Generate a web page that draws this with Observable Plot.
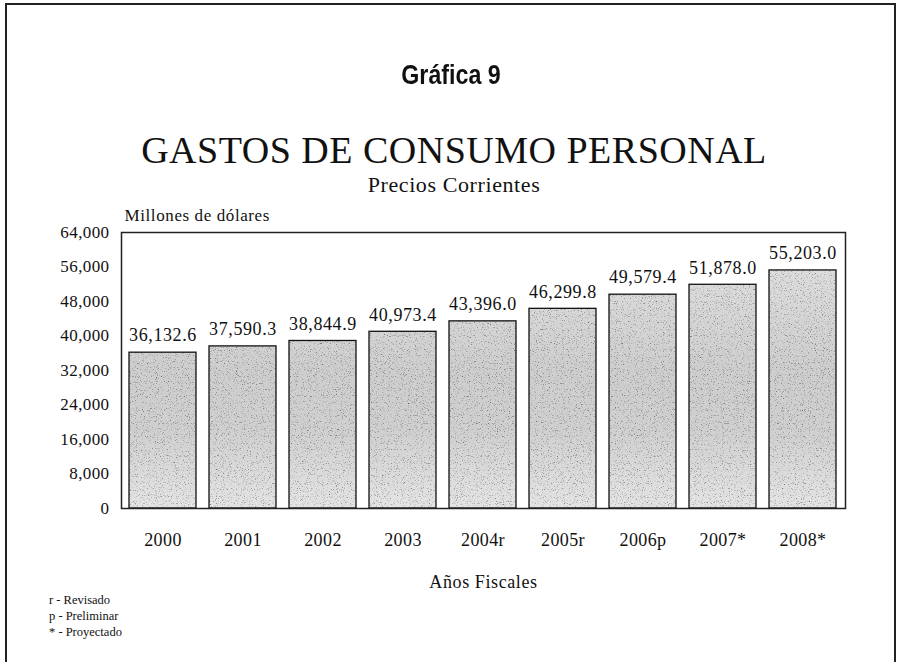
<!DOCTYPE html>
<html>
<head>
<meta charset="utf-8">
<script src="https://cdn.jsdelivr.net/npm/d3@7"></script>
<script src="https://cdn.jsdelivr.net/npm/@observablehq/plot@0.6"></script>
<style>
  html, body { margin: 0; padding: 0; background: #fff; }
  body { width: 898px; height: 662px; position: relative; overflow: hidden; font-family: "Liberation Serif", serif; color: #111; }
  #frame { position: absolute; left: 5px; top: 3px; width: 887px; height: 680px; border: 2px solid #222; border-bottom: none; }
  .t { position: absolute; left: 0; width: 898px; text-align: center; white-space: nowrap; }
  #g9 { top: 60px; font-family: "Liberation Sans", Arial, sans-serif; font-weight: bold; font-size: 27px; left: 2px; transform: scaleX(0.86); }
  #main { top: 128px; font-size: 38px; left: 5px; letter-spacing: 0.5px; }
  #sub { top: 172px; font-size: 22px; left: 5px; letter-spacing: 0.6px; }
  #chart { position: absolute; left: 0; top: 200px; }
  #notes { position: absolute; left: 49px; top: 592px; font-size: 12.5px; line-height: 16px; }
</style>
</head>
<body>
<div id="frame"></div>
<div class="t" id="g9">Gráfica 9</div>
<div class="t" id="main">GASTOS DE CONSUMO PERSONAL</div>
<div class="t" id="sub">Precios Corrientes</div>
<div id="chart"></div>
<div id="notes">r - Revisado<br>p - Preliminar<br>* - Proyectado</div>
<script>
const years = ["2000", "2001", "2002", "2003", "2004r", "2005r", "2006p", "2007*", "2008*"];
const values = [36132.6, 37590.3, 38844.9, 40973.4, 43396.0, 46299.8, 49579.4, 51878.0, 55203.0];
const yTicks = [0, 8000, 16000, 24000, 32000, 40000, 48000, 56000, 64000];

const data = years.map((year, i) => ({year, value: values[i]}));
const fmt = d3.format(",.1f");

const chart = Plot.plot({
  width: 898,
  height: 420,
  marginLeft: 121,
  marginRight: 53,
  marginTop: 32,
  marginBottom: 112,
  style: {fontFamily: "Liberation Serif, serif", fontSize: "17px", color: "#111", background: "transparent", overflow: "visible"},
  x: {domain: years, paddingInner: 0.16, paddingOuter: 0.08, label: null},
  y: {domain: [0, 64000], label: null},
  marks: [
    Plot.barY(data, {x: "year", y: "value", fill: "url(#barfill)"}),
    Plot.barY(data, {x: "year", y: "value", fill: "none", stroke: "#111", strokeWidth: 1.3}),
    Plot.text(data, {x: "year", y: "value", text: d => fmt(d.value), dy: -17, fontSize: 18, fill: "#111"}),
    Plot.frame({stroke: "#222", strokeWidth: 1.5}),
    Plot.axisY({ticks: yTicks, tickFormat: d3.format(","), tickSize: 0, tickPadding: 12, fontSize: 17, label: null}),
    Plot.axisX({tickSize: 0, tickPadding: 25, fontSize: 18, label: null}),
    Plot.text(["Años Fiscales"], {frameAnchor: "bottom", dy: 74, fontSize: 18, lineAnchor: "middle", fill: "#111"}),
    Plot.text(["Millones de dólares"], {frameAnchor: "top-left", dx: 3, dy: -17, fontSize: 17, lineAnchor: "middle", textAnchor: "start", fill: "#111"})
  ]
});

// defs: gray gradient + grain filter to imitate the stippled print fill
const ns = "http://www.w3.org/2000/svg";
const defs = document.createElementNS(ns, "defs");
defs.innerHTML = `
  <linearGradient id="barfill" gradientUnits="userSpaceOnUse" x1="0" y1="32" x2="0" y2="308">
    <stop offset="0" stop-color="#e2e2e2"/>
    <stop offset="0.5" stop-color="#cecece"/>
    <stop offset="0.72" stop-color="#d0d0d0"/>
    <stop offset="1" stop-color="#e4e4e4"/>
  </linearGradient>
  <filter id="grain" x="0" y="0" width="100%" height="100%" color-interpolation-filters="sRGB">
    <feTurbulence type="fractalNoise" baseFrequency="0.85" numOctaves="2" seed="7" result="noise"/>
    <feColorMatrix in="noise" type="matrix" values="1.6 0 0 0 0.32  1.6 0 0 0 0.32  1.6 0 0 0 0.32  0 0 0 0 1" result="gray"/>
    <feBlend in="SourceGraphic" in2="gray" mode="multiply" result="blend"/>
    <feComposite in="blend" in2="SourceGraphic" operator="in"/>
  </filter>`;
chart.insertBefore(defs, chart.firstChild);
const barGroups = chart.querySelectorAll('g[aria-label="bar"]');
if (barGroups.length) barGroups[0].setAttribute("filter", "url(#grain)");
chart.querySelectorAll('g[aria-label="x-axis tick label"] text, g[aria-label="y-axis tick label"] text').forEach(t => t.style.letterSpacing = "0.4px");
chart.querySelectorAll('g[aria-label="text"] text').forEach(t => t.style.letterSpacing = "0.6px");
document.getElementById("chart").appendChild(chart);
</script>
</body>
</html>
